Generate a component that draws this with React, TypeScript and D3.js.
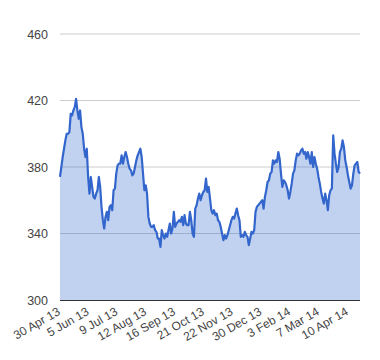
import React, { useEffect, useRef } from "react";
import * as d3 from "d3";

// closing prices (one per trading day sample)
const prices = [
  374, 380, 386, 391, 396, 400, 400, 401, 412, 411, 414, 416, 421, 414, 409, 414,
  404, 400, 391, 386, 391, 374, 364, 374, 368, 362, 361, 364, 366, 374, 368, 356,
  348, 343, 350, 353, 348, 356, 357, 354, 366, 367, 376, 381, 382, 382, 387, 382,
  386, 389, 386, 382, 379, 378, 375, 376, 380, 384, 387, 389, 391, 386, 376, 366,
  369, 364, 350, 346, 344, 344, 345, 342, 341, 337, 337, 332, 342, 339, 337, 340,
  338, 342, 346, 340, 343, 353, 344, 346, 347, 348, 347, 350, 345, 351, 346, 345,
  345, 353, 348, 340, 338, 355, 357, 361, 364, 360, 363, 365, 366, 373, 365, 368,
  361, 354, 352, 354, 351, 352, 348, 347, 344, 340, 336, 339, 337, 339, 342, 345,
  348, 350, 349, 352, 355, 351, 348, 338, 339, 338, 341, 339, 338, 333, 337, 341,
  340, 342, 353, 356, 357, 358, 359, 360, 355, 362, 366, 371, 372, 376, 377, 384,
  382, 384, 383, 389, 385, 376, 368, 372, 371, 369, 366, 361, 365, 370, 376, 378,
  384, 388, 387, 388, 390, 391, 388, 389, 385, 389, 386, 382, 389, 380, 386, 382,
  379, 374, 370, 365, 361, 358, 364, 360, 354, 363, 366, 367, 399, 388, 382, 377,
  380, 389, 391, 396, 392, 384, 380, 375, 371, 367, 369, 376, 381, 382, 383, 377,
  376,
];

const dateLabels = [
  "30 Apr 13", "5 Jun 13", "9 Jul 13", "12 Aug 13", "16 Sep 13", "21 Oct 13",
  "22 Nov 13", "30 Dec 13", "3 Feb 14", "7 Mar 14", "10 Apr 14",
];
const labelEvery = 21.5; // points between labelled dates
const yTicks = [300, 340, 380, 420, 460];

const W = 380;
const H = 360;
const m = { top: 34, right: 20, bottom: 60, left: 60 };

export default function App() {
  const ref = useRef<SVGSVGElement>(null);

  useEffect(() => {
    const svg = d3.select(ref.current);
    svg.selectAll("*").remove();

    const x = d3
      .scaleLinear()
      .domain([0, prices.length - 1])
      .range([m.left, W - m.right]);
    const y = d3
      .scaleLinear()
      .domain([300, 460])
      .range([H - m.bottom, m.top]);

    // gridlines
    svg
      .append("g")
      .selectAll("line")
      .data(yTicks.filter((t) => t !== 300))
      .join("line")
      .attr("x1", m.left)
      .attr("x2", W - m.right)
      .attr("y1", (d) => y(d))
      .attr("y2", (d) => y(d))
      .attr("stroke", "#cccccc")
      .attr("stroke-width", 1);

    const area = d3
      .area<number>()
      .x((d, i) => x(i))
      .y0(y(300))
      .y1((d) => y(d));
    const line = d3
      .line<number>()
      .x((d, i) => x(i))
      .y((d) => y(d));

    svg
      .append("path")
      .datum(prices)
      .attr("d", area)
      .attr("fill", "#3366cc")
      .attr("fill-opacity", 0.3);

    svg
      .append("path")
      .datum(prices)
      .attr("d", line)
      .attr("fill", "none")
      .attr("stroke", "#3366cc")
      .attr("stroke-width", 2.2)
      .attr("stroke-linejoin", "round");

    // baseline
    svg
      .append("line")
      .attr("x1", m.left)
      .attr("x2", W - m.right)
      .attr("y1", y(300) + 0.5)
      .attr("y2", y(300) + 0.5)
      .attr("stroke", "#333333");

    // y labels
    svg
      .append("g")
      .selectAll("text")
      .data(yTicks)
      .join("text")
      .attr("x", m.left - 12)
      .attr("y", (d) => y(d) + 4.5)
      .attr("text-anchor", "end")
      .attr("font-family", "Arial, 'Liberation Sans', sans-serif")
      .attr("font-size", 12.5)
      .attr("fill", "#444444")
      .text((d) => d);

    // rotated x labels
    svg
      .append("g")
      .selectAll("text")
      .data(dateLabels)
      .join("text")
      .attr("text-anchor", "end")
      .attr("font-family", "Arial, 'Liberation Sans', sans-serif")
      .attr("font-size", 12)
      .attr("fill", "#444444")
      .attr(
        "transform",
        (d, i) => `translate(${x(i * labelEvery) + 1},${y(300) + 14}) rotate(-30)`,
      )
      .text((d) => d);
  }, []);

  return (
    <svg
      ref={ref}
      width={W}
      height={H}
      style={{ position: "absolute", left: 0, top: 0, background: "#fff" }}
    />
  );
}
